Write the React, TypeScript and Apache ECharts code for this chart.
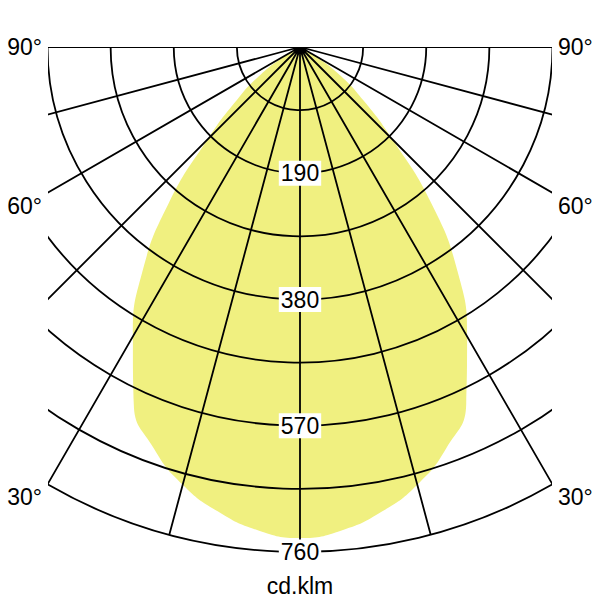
import React, { useEffect, useRef } from 'react';
import * as echarts from 'echarts';

// Luminous intensity distribution (symmetric), angle from nadir in degrees
const angleDeg = [0, 5, 10, 15, 20, 25, 30, 35, 40, 45, 50, 55, 60, 65, 70, 75, 80, 85, 90];
const intensity = [739, 730, 710, 682, 643, 592, 503, 414, 308, 197, 124, 72, 24, 6, 0, 0, 0, 0, 0];

// Radius axis
const radiusMax = 760;
const ringStep = 95;
const labelledRings = [190, 380, 570, 760];

// Angle labels at the sides
const sideAngles = [90, 60, 30];
const sideAngleLabels = ['90°', '60°', '30°'];
const unitLabel = 'cd.klm';

export default function App() {
  const ref = useRef<HTMLDivElement>(null);

  useEffect(() => {
    const chart = echarts.init(ref.current as HTMLDivElement, null, { renderer: 'svg' });
    const cx = 300;
    const cy = 47;
    const R = 505;
    const clipHalf = 252;
    const font = '"Liberation Sans", Arial, Helvetica, sans-serif';
    const lw = 1.8;

    const data: number[][] = [];
    for (let i = angleDeg.length - 1; i > 0; i--) data.push([intensity[i], 360 - angleDeg[i]]);
    for (let i = 0; i < angleDeg.length; i++) data.push([intensity[i], angleDeg[i]]);

    const labelY = (d: number) =>
      d === 90 ? cy : cy + clipHalf / Math.tan((d * Math.PI) / 180) + 14;

    const graphics: any[] = [
      { type: 'rect', z: 100, shape: { x: 0, y: 0, width: 600, height: cy }, style: { fill: '#fff' } },
      { type: 'rect', z: 100, shape: { x: 0, y: 0, width: cx - clipHalf, height: 600 }, style: { fill: '#fff' } },
      { type: 'rect', z: 100, shape: { x: cx + clipHalf, y: 0, width: 600 - (cx + clipHalf), height: 600 }, style: { fill: '#fff' } },
    ];
    sideAngles.forEach((d, i) => {
      const y = labelY(d);
      graphics.push({
        type: 'text', z: 110, x: cx - clipHalf - 6, y,
        style: { text: sideAngleLabels[i], font: `23px ${font}`, fill: '#000', textAlign: 'right', textVerticalAlign: 'middle' },
      });
      graphics.push({
        type: 'text', z: 110, x: cx + clipHalf + 6, y,
        style: { text: sideAngleLabels[i], font: `23px ${font}`, fill: '#000', textAlign: 'left', textVerticalAlign: 'middle' },
      });
    });
    graphics.push({
      type: 'text', z: 110, x: cx, y: 586,
      style: { text: unitLabel, font: `23px ${font}`, fill: '#000', textAlign: 'center', textVerticalAlign: 'middle' },
    });

    chart.setOption({
      animation: false,
      polar: { center: [cx, cy], radius: R },
      angleAxis: {
        type: 'value', min: 0, max: 360, interval: 15, startAngle: -90, clockwise: true, z: 5,
        axisLine: { show: false },
        axisTick: { show: false },
        axisLabel: { show: false },
        splitLine: { show: true, lineStyle: { color: '#000', width: lw } },
      },
      radiusAxis: {
        type: 'value', min: 0, max: radiusMax, interval: ringStep, z: 6,
        axisLine: { show: false },
        axisTick: { show: false },
        splitLine: { show: true, lineStyle: { color: '#000', width: lw } },
        axisLabel: {
          show: true, margin: 0, align: 'center', verticalAlign: 'middle', showMaxLabel: true,
          formatter: (v: number) => (labelledRings.includes(v) ? `{b|${v}}` : ''),
          rich: { b: { backgroundColor: '#fff', fontSize: 23, fontFamily: font, color: '#000', padding: [1, 2] } },
        },
      },
      series: [
        {
          type: 'line', coordinateSystem: 'polar', data, smooth: 0.5, showSymbol: false, silent: true, z: 1,
          lineStyle: { width: 0 },
          areaStyle: { color: '#f0f080', opacity: 1 },
        },
      ],
      graphic: graphics,
    });
    return () => chart.dispose();
  }, []);

  return <div ref={ref} style={{ position: 'absolute', left: 0, top: 0, width: 600, height: 600 }} />;
}
